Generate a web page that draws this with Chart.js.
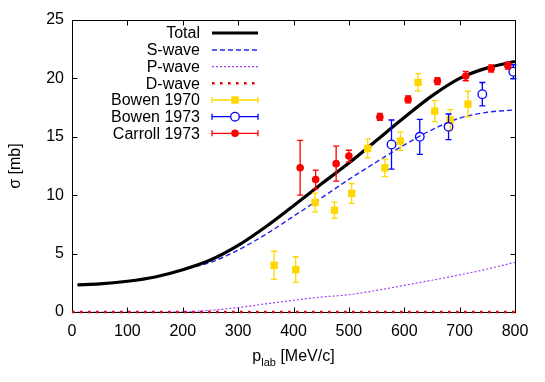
<!DOCTYPE html>
<html><head><meta charset="utf-8">
<script src="https://cdn.jsdelivr.net/npm/chart.js@4.4.1/dist/chart.umd.min.js"></script>
<style>html,body{margin:0;padding:0;background:#fff}#wrap{width:545px;height:382px;position:relative}</style>
</head><body><div id="wrap"><canvas id="c"></canvas></div>
<script>
// ---- data ----
const curveX = [10,50,100,150,200,250,300,350,400,450,500,550,600,650,700,750,800];
const totalY = [2.33,2.40,2.63,3.00,3.62,4.45,5.70,7.30,9.10,10.95,12.75,14.70,16.65,18.50,20.00,20.90,21.45];
const sWaveY = [2.33,2.40,2.62,3.00,3.60,4.25,5.30,6.65,8.20,9.75,11.35,12.85,14.30,15.60,16.60,17.10,17.30];
const pWaveY = [0,0,0,0,0.01,0.15,0.38,0.70,1.00,1.28,1.48,1.85,2.28,2.72,3.18,3.68,4.25];
const dWaveX = [0,800];
const dWaveY = [0,0];

const bowen70X = [365,404,439,474,505,534,565,593,625,655,683,715];
const bowen70Y = [4.0,3.63,9.37,8.71,10.15,14.0,12.34,14.63,19.66,17.2,16.43,17.8];
const bowen70Err = [1.2,1.1,0.8,0.7,0.85,0.8,0.75,0.8,0.75,0.9,0.9,1.1];

const bowen73X = [577,628,680,741,797];
const bowen73Y = [14.34,15.0,15.85,18.65,20.57];
const bowen73Err = [2.1,1.5,1.1,1.0,0.6];

const carrollX = [412,440,477,500,556,607,660,711,757,787];
const carrollY = [12.35,11.35,12.7,13.35,16.7,18.2,19.77,20.2,20.85,21.1];
const carrollErr = [2.35,0.8,1.5,0.5,0.3,0.3,0.3,0.4,0.3,0.3];

const xTicks = [0,100,200,300,400,500,600,700,800];
const yTicks = [0,5,10,15,20,25];

const legendLabels = ['Total','S-wave','P-wave','D-wave','Bowen 1970','Bowen 1973','Carroll 1973'];
const xTitleMain = 'p', xTitleSub = 'lab', xTitleRest = ' [MeV/c]';
const yTitle = 'σ [mb]';

// ---- build ----
const zip = (xs, ys) => xs.map((x, i) => ({x, y: ys[i]}));
const FONT = '"Liberation Sans", Arial, sans-serif';
const GOLD = '#FFD700', BLUE = '#0000FF', RED = '#FF0000';

const datasets = [
  {label: legendLabels[6], type: 'scatter', data: zip(carrollX, carrollY), errors: carrollErr, errColor: RED,
   pointStyle: 'circle', pointRadius: 3.8, backgroundColor: RED, borderColor: RED, borderWidth: 0, showLine: false},
  {label: legendLabels[5], type: 'scatter', data: zip(bowen73X, bowen73Y), errors: bowen73Err, errColor: BLUE, gap: 4.5,
   pointStyle: 'circle', pointRadius: 4.3, backgroundColor: 'rgba(255,255,255,0)', borderColor: BLUE, borderWidth: 1.3, showLine: false},
  {label: legendLabels[4], type: 'scatter', data: zip(bowen70X, bowen70Y), errors: bowen70Err, errColor: GOLD,
   pointStyle: 'rect', pointRadius: 5.2, backgroundColor: GOLD, borderColor: GOLD, borderWidth: 0, showLine: false},
  {label: legendLabels[0], type: 'line', data: zip(curveX, totalY), borderColor: '#000', borderWidth: 3.2,
   pointRadius: 0, fill: false, cubicInterpolationMode: 'monotone'},
  {label: legendLabels[1], type: 'line', data: zip(curveX, sWaveY), borderColor: '#2222F0', borderWidth: 1.4,
   borderDash: [5, 3], pointRadius: 0, fill: false, cubicInterpolationMode: 'monotone'},
  {label: legendLabels[2], type: 'line', data: zip(curveX, pWaveY), borderColor: '#A040F0', borderWidth: 1.2,
   borderDash: [2, 2], pointRadius: 0, fill: false, cubicInterpolationMode: 'monotone'},
  {label: legendLabels[3], type: 'line', data: zip(dWaveX, dWaveY), borderColor: '#E00000', borderWidth: 2.6,
   borderDash: [2.6, 5.4], pointRadius: 0, fill: false, clip: false}
];

const framePlugin = {
  id: 'frame',
  beforeDatasetsDraw(chart) {
    const {ctx, chartArea: a, scales: {x, y}} = chart;
    ctx.save();
    ctx.strokeStyle = '#000';
    ctx.lineWidth = 1;
    const L = Math.round(a.left) + 0.5, R = Math.round(a.right) + 0.5;
    const T = Math.round(a.top) + 0.5, B = Math.round(a.bottom) + 0.5;
    ctx.strokeRect(L, T, R - L, B - T);
    const tl = 5;
    ctx.beginPath();
    xTicks.forEach(v => {
      const px = Math.round(x.getPixelForValue(v)) + 0.5;
      ctx.moveTo(px, B); ctx.lineTo(px, B - tl);
      ctx.moveTo(px, T); ctx.lineTo(px, T + tl);
    });
    yTicks.forEach(v => {
      const py = Math.round(y.getPixelForValue(v)) + 0.5;
      ctx.moveTo(L, py); ctx.lineTo(L + tl, py);
      ctx.moveTo(R, py); ctx.lineTo(R - tl, py);
    });
    ctx.stroke();
    ctx.restore();
  }
};

const errPlugin = {
  id: 'errbars',
  beforeDatasetDraw(chart, args) {
    const ds = chart.data.datasets[args.index];
    if (!ds.errors) return;
    const {ctx, scales: {x, y}} = chart;
    ctx.save();
    ctx.strokeStyle = ds.errColor;
    ctx.lineWidth = 1.3;
    ctx.beginPath();
    ds.data.forEach((p, i) => {
      const e = ds.errors[i];
      const px = x.getPixelForValue(p.x);
      const py = y.getPixelForValue(p.y);
      const yt = y.getPixelForValue(p.y + e);
      const yb = y.getPixelForValue(p.y - e);
      if (ds.gap) {
        if (py - yt > ds.gap) { ctx.moveTo(px, yt); ctx.lineTo(px, py - ds.gap); }
        if (yb - py > ds.gap) { ctx.moveTo(px, py + ds.gap); ctx.lineTo(px, yb); }
      } else {
        ctx.moveTo(px, yt); ctx.lineTo(px, yb);
      }
      ctx.moveTo(px - 3, yt); ctx.lineTo(px + 3, yt);
      ctx.moveTo(px - 3, yb); ctx.lineTo(px + 3, yb);
    });
    ctx.stroke();
    ctx.restore();
  }
};

const decoPlugin = {
  id: 'deco',
  afterDraw(chart) {
    const {ctx, chartArea: a} = chart;
    ctx.save();
    ctx.fillStyle = '#000';
    // legend
    ctx.font = '16px ' + FONT;
    ctx.textAlign = 'right';
    ctx.textBaseline = 'middle';
    const ys = [33, 50, 66.7, 83.3, 100, 116.7, 133.3];
    const tx = 200, s0 = 212, s1 = 258, sm = 235;
    legendLabels.forEach((t, i) => ctx.fillText(t, tx, ys[i] + 1));
    const line = (y, color, w, dash) => {
      ctx.beginPath(); ctx.setLineDash(dash || []); ctx.strokeStyle = color; ctx.lineWidth = w;
      ctx.moveTo(s0, y); ctx.lineTo(s1, y); ctx.stroke(); ctx.setLineDash([]);
    };
    line(ys[0], '#000', 3.2);
    line(ys[1], '#2222F0', 1.4, [5, 3]);
    line(ys[2], '#A040F0', 1.2, [2, 2]);
    line(ys[3], '#E00000', 2.6, [2.6, 5.4]);
    const errLegend = (y, color) => {
      ctx.beginPath(); ctx.strokeStyle = color; ctx.lineWidth = 1.3;
      ctx.moveTo(s0, y); ctx.lineTo(s1, y);
      ctx.moveTo(s0, y - 3); ctx.lineTo(s0, y + 3);
      ctx.moveTo(s1, y - 3); ctx.lineTo(s1, y + 3);
      ctx.stroke();
    };
    errLegend(ys[4], GOLD);
    ctx.fillStyle = GOLD; ctx.fillRect(sm - 3.7, ys[4] - 3.7, 7.4, 7.4);
    errLegend(ys[5], BLUE);
    ctx.fillStyle = '#fff'; ctx.beginPath(); ctx.arc(sm, ys[5], 4.3, 0, Math.PI * 2); ctx.fill();
    ctx.strokeStyle = BLUE; ctx.lineWidth = 1.3; ctx.stroke();
    errLegend(ys[6], RED);
    ctx.fillStyle = RED; ctx.beginPath(); ctx.arc(sm, ys[6], 3.8, 0, Math.PI * 2); ctx.fill();

    // x title with subscript
    ctx.fillStyle = '#000';
    ctx.textAlign = 'left';
    ctx.textBaseline = 'alphabetic';
    const big = '16px ' + FONT, small = '11px ' + FONT;
    ctx.font = big; const w1 = ctx.measureText(xTitleMain).width;
    ctx.font = small; const w2 = ctx.measureText(xTitleSub).width;
    ctx.font = big; const w3 = ctx.measureText(xTitleRest).width;
    const cx = (a.left + a.right) / 2;
    let sx = cx - (w1 + w2 + w3) / 2;
    const base = 361;
    ctx.font = big; ctx.fillText(xTitleMain, sx, base); sx += w1;
    ctx.font = small; ctx.fillText(xTitleSub, sx, base + 5); sx += w2;
    ctx.font = big; ctx.fillText(xTitleRest, sx, base);

    // y title
    ctx.translate(16, (a.top + a.bottom) / 2);
    ctx.rotate(-Math.PI / 2);
    ctx.textAlign = 'center';
    ctx.textBaseline = 'middle';
    ctx.font = big;
    ctx.fillText(yTitle, 0, 0);
    ctx.restore();
  }
};

new Chart(document.getElementById('c'), {
  type: 'scatter',
  data: {datasets},
  options: {
    responsive: true,
    maintainAspectRatio: false,
    animation: false,
    layout: {padding: {top: 20, right: 30, left: 0, bottom: 0}},
    plugins: {legend: {display: false}, tooltip: {enabled: false}},
    scales: {
      x: {
        type: 'linear', min: 0, max: 800,
        afterBuildTicks: s => { s.ticks = xTicks.map(v => ({value: v})); },
        grid: {display: false, drawTicks: false},
        border: {display: false},
        ticks: {padding: 10, color: '#000', font: {family: FONT, size: 16}, maxRotation: 0},
        afterFit: s => { s.height = 70; }
      },
      y: {
        type: 'linear', min: 0, max: 25,
        afterBuildTicks: s => { s.ticks = yTicks.map(v => ({value: v})); },
        grid: {display: false, drawTicks: false},
        border: {display: false},
        ticks: {padding: 8, color: '#000', font: {family: FONT, size: 16}},
        afterFit: s => { s.width = 72; }
      }
    }
  },
  plugins: [framePlugin, errPlugin, decoPlugin]
});
</script>
</body></html>
